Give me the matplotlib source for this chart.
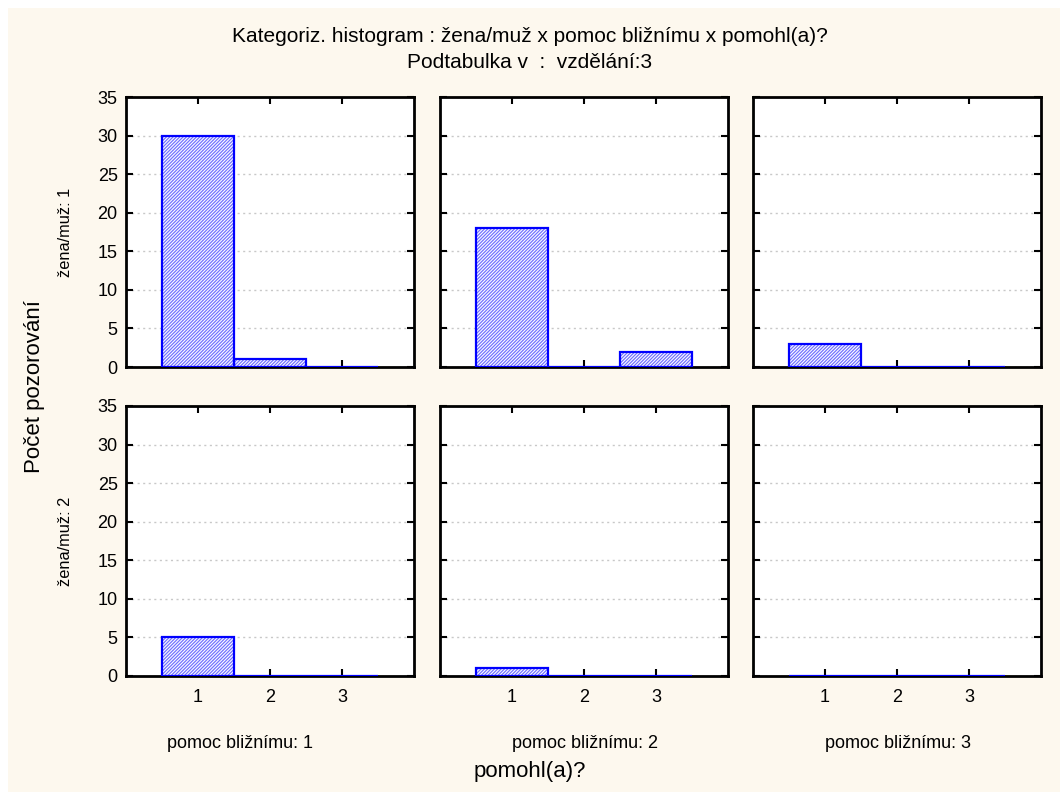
import matplotlib
matplotlib.use("Agg")
import matplotlib.pyplot as plt
from matplotlib.patches import Rectangle

plt.rcParams['font.family'] = ['Liberation Sans', 'DejaVu Sans']
plt.rcParams['hatch.linewidth'] = 0.9

# Categories on the x axis (pomohl(a)?)
categories = [1, 2, 3]
# Column facets: pomoc bližnímu, row facets: žena/muž
col_labels = ["pomoc bližnímu: 1", "pomoc bližnímu: 2", "pomoc bližnímu: 3"]
row_labels = ["žena/muž: 1", "žena/muž: 2"]

# Counts per panel (row = žena/muž, column = pomoc bližnímu)
counts_r1_c1 = [30, 1, 0]
counts_r1_c2 = [18, 0, 2]
counts_r1_c3 = [3, 0, 0]
counts_r2_c1 = [5, 0, 0]
counts_r2_c2 = [1, 0, 0]
counts_r2_c3 = [0, 0, 0]
panel_counts = [[counts_r1_c1, counts_r1_c2, counts_r1_c3],
                [counts_r2_c1, counts_r2_c2, counts_r2_c3]]

y_ticks = [0, 5, 10, 15, 20, 25, 30, 35]

W, H = 1060, 795
fig = plt.figure(figsize=(W / 100, H / 100), dpi=100)
fig.patch.set_facecolor('white')
# cream panel behind the whole chart
fig.patches.append(Rectangle((8 / W, 0.004), 1 - 8 / W, 1 - 8 / H - 0.004,
                             transform=fig.transFigure, facecolor='#fdf8ee',
                             edgecolor='none', zorder=-10))

col_lefts = [126, 440, 753]
col_width = 288
row_tops = [97, 406]
row_height = 270

for r in range(2):
    for c in range(3):
        x0 = col_lefts[c] / W
        y0 = 1 - (row_tops[r] + row_height) / H
        ax = fig.add_axes([x0, y0, col_width / W, row_height / H])
        ax.set_facecolor('white')
        # hatched fill in a lighter blue, then a solid blue outline
        ax.bar(categories, panel_counts[r][c], width=1.0, facecolor='white',
               edgecolor='#7373ff', hatch='/' * 10, linewidth=0, zorder=3)
        ax.bar(categories, panel_counts[r][c], width=1.0, fill=False,
               edgecolor='#0000ff', linewidth=1.6, zorder=4)
        ax.set_xlim(0, 4)
        ax.set_ylim(0, 35)
        ax.set_xticks(categories)
        ax.set_yticks(y_ticks)
        ax.grid(axis='y', linestyle=(0, (1.5, 2.5)), color='#c8c8c8', linewidth=1.0, zorder=0)
        ax.tick_params(direction='in', length=5, width=1.5, top=True, right=True,
                       labelsize=13, colors='black', pad=6)
        if r == 0:
            ax.tick_params(labelbottom=False)
        else:
            ax.tick_params(axis='x', pad=9)
        if c != 0:
            ax.tick_params(labelleft=False)
        for s in ax.spines.values():
            s.set_linewidth(2)
            s.set_color('black')

# Titles and facet labels
fig.text(530 / W, 1 - 37 / H, "Kategoriz. histogram : žena/muž x pomoc bližnímu x pomohl(a)?",
         ha='center', va='center', fontsize=15)
fig.text(530 / W, 1 - 62 / H, "Podtabulka v  :  vzdělání:3",
         ha='center', va='center', fontsize=15)

fig.text(65 / W, 1 - 232 / H, row_labels[0], rotation=90, ha='center', va='center', fontsize=11.8)
fig.text(65 / W, 1 - 541 / H, row_labels[1], rotation=90, ha='center', va='center', fontsize=11.8)
fig.text(35 / W, 1 - 387 / H, "Počet pozorování", rotation=90, ha='center', va='center', fontsize=16)

col_label_x = [240, 585, 898]
for lab, xc in zip(col_labels, col_label_x):
    fig.text(xc / W, 1 - 743 / H, lab, ha='center', va='center', fontsize=13)
fig.text(530 / W, 1 - 772 / H, "pomohl(a)?", ha='center', va='center', fontsize=16)

fig.savefig("out.png", dpi=100, facecolor=fig.get_facecolor())
